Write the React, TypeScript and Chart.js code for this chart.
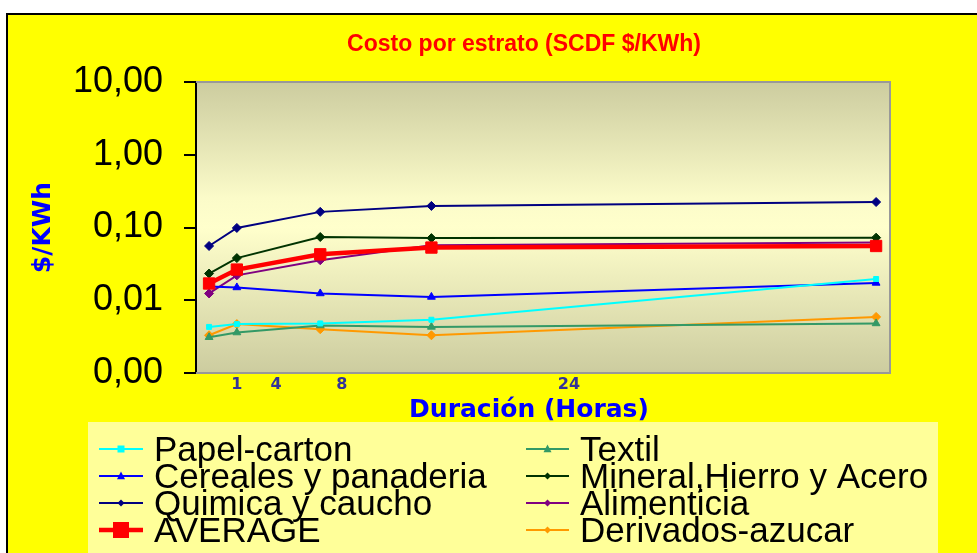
import React, { useEffect, useRef } from 'react';
import { Chart, registerables } from 'chart.js';

Chart.register(...registerables);

// ---- data ----
const hours = [0, 1, 4, 8, 24];
const seriesNames = [
  'Papel-carton',
  'Cereales y panaderia',
  'Quimica y caucho',
  'AVERAGE',
  'Textil',
  'Mineral,Hierro y Acero',
  'Alimenticia',
  'Derivados-azucar',
];
const papelCarton = [0.0043, 0.0047, 0.0048, 0.0054, 0.0196];
const cereales = [0.0155, 0.015, 0.0124, 0.0111, 0.0173];
const quimica = [0.0557, 0.0986, 0.164, 0.198, 0.224];
const average = [0.017, 0.0264, 0.0428, 0.053, 0.0557];
const textil = [0.0031, 0.0036, 0.0045, 0.0043, 0.0048];
const mineral = [0.0233, 0.038, 0.074, 0.0715, 0.0725];
const alimenticia = [0.0124, 0.022, 0.0355, 0.057, 0.062];
const derivados = [0.0033, 0.0047, 0.004, 0.0033, 0.0059];

const xTickValues = [1, 2.41, 4.78, 12.95];
const xTickLabels = ['1', '4', '8', '24'];
const yTickValues = [0.001, 0.01, 0.1, 1, 10];

const chartTitle = 'Costo por estrato (SCDF $/KWh)';
const xTitle = 'Duración (Horas)';
const yTitle = '$/KWh';

// ---- styles ----
const styles = [
  { color: '#00FFFF', style: 'rect', r: 3.5, w: 2, lr: 3.5 },
  { color: '#0000FF', style: 'triangle', r: 4.5, w: 2, lr: 4 },
  { color: '#000080', style: 'rectRot', r: 4.5, w: 2, lr: 3.5 },
  { color: '#FF0000', style: 'rect', r: 8, w: 4.5, lr: 8 },
  { color: '#339966', style: 'triangle', r: 4.5, w: 2, lr: 4 },
  { color: '#003300', style: 'rectRot', r: 4.5, w: 2, lr: 3.5 },
  { color: '#800080', style: 'rectRot', r: 4.5, w: 2, lr: 3.5 },
  { color: '#FF9900', style: 'rectRot', r: 4.5, w: 2, lr: 3.5 },
];
const seriesValues = [papelCarton, cereales, quimica, average, textil, mineral, alimenticia, derivados];

function drawMarker(ctx: CanvasRenderingContext2D, style: string, x: number, y: number, r: number, color: string) {
  ctx.save();
  ctx.fillStyle = color;
  ctx.beginPath();
  if (style === 'rect') {
    ctx.rect(x - r, y - r, 2 * r, 2 * r);
  } else if (style === 'triangle') {
    ctx.moveTo(x, y - r * 1.1);
    ctx.lineTo(x + r, y + r * 0.8);
    ctx.lineTo(x - r, y + r * 0.8);
    ctx.closePath();
  } else {
    ctx.moveTo(x, y - r);
    ctx.lineTo(x + r, y);
    ctx.lineTo(x, y + r);
    ctx.lineTo(x - r, y);
    ctx.closePath();
  }
  ctx.fill();
  ctx.restore();
}

const decorPlugin = {
  id: 'decor',
  beforeDraw(chart: any) {
    const { ctx, width, height, chartArea } = chart;
    ctx.save();
    ctx.fillStyle = '#FFFFFF';
    ctx.fillRect(0, 0, width, height);
    ctx.fillStyle = '#000000';
    ctx.fillRect(6, 13, width - 6, 2);
    ctx.fillRect(6, 13, 2, height - 13);
    ctx.fillStyle = '#FFFF00';
    ctx.fillRect(8, 15, width - 8, height - 15);
    const g = ctx.createLinearGradient(0, chartArea.top, 0, chartArea.bottom);
    g.addColorStop(0, '#CCCC9F');
    g.addColorStop(0.4, '#FBFBC9');
    g.addColorStop(0.5, '#FFFFCC');
    g.addColorStop(1, '#CCCC9F');
    ctx.fillStyle = g;
    ctx.fillRect(chartArea.left, chartArea.top, chartArea.right - chartArea.left, chartArea.bottom - chartArea.top);
    ctx.restore();
  },
  beforeDatasetsDraw(chart: any) {
    const { ctx, chartArea } = chart;
    ctx.save();
    ctx.strokeStyle = '#999999';
    ctx.lineWidth = 2;
    ctx.beginPath();
    ctx.moveTo(chartArea.left, chartArea.top);
    ctx.lineTo(chartArea.right, chartArea.top);
    ctx.lineTo(chartArea.right, chartArea.bottom);
    ctx.lineTo(chartArea.left, chartArea.bottom);
    ctx.stroke();
    ctx.restore();
  },
  afterDraw(chart: any) {
    const { ctx } = chart;
    ctx.save();
    // main title
    ctx.fillStyle = '#FF0000';
    ctx.font = 'bold 23px "Liberation Sans", Arial, sans-serif';
    ctx.textAlign = 'center';
    ctx.textBaseline = 'middle';
    ctx.fillText(chartTitle, 524, 45);
    // x title
    ctx.fillStyle = '#0000FF';
    ctx.font = 'bold 25px "DejaVu Sans", Verdana, sans-serif';
    ctx.fillText(xTitle, 529, 410);
    // legend
    ctx.fillStyle = '#FFFF99';
    ctx.fillRect(88, 422, 850, 140);
    const rows = [449, 476, 503, 530];
    const cols = [
      { x0: 99, x1: 143, tx: 154 },
      { x0: 526, x1: 569, tx: 580 },
    ];
    ctx.font = '35px "Liberation Sans", Arial, sans-serif';
    ctx.textAlign = 'left';
    ctx.textBaseline = 'alphabetic';
    chart.data.datasets.forEach((ds: any, i: number) => {
      const c = cols[Math.floor(i / 4)];
      const y = rows[i % 4];
      const s = styles[i];
      ctx.strokeStyle = s.color;
      ctx.lineWidth = s.w;
      ctx.beginPath();
      ctx.moveTo(c.x0, y);
      ctx.lineTo(c.x1, y);
      ctx.stroke();
      drawMarker(ctx, s.style, (c.x0 + c.x1) / 2, y, s.lr, s.color);
      ctx.fillStyle = '#000000';
      ctx.fillText(ds.label, c.tx, y + 12);
    });
    ctx.restore();
  },
};

export default function App() {
  const ref = useRef<HTMLCanvasElement | null>(null);
  useEffect(() => {
    if (!ref.current) return;
    const datasets = seriesNames.map((name, i) => ({
      label: name,
      data: hours.map((h, j) => ({ x: h, y: seriesValues[i][j] })),
      borderColor: styles[i].color,
      backgroundColor: styles[i].color,
      pointBackgroundColor: styles[i].color,
      pointBorderColor: styles[i].color,
      borderWidth: styles[i].w,
      pointStyle: styles[i].style,
      pointRadius: styles[i].r,
      pointBorderWidth: 1,
      tension: 0,
      fill: false,
      order: name === 'AVERAGE' ? -1 : 0,
    }));
    const chart = new Chart(ref.current, {
      type: 'line',
      data: { datasets },
      plugins: [decorPlugin],
      options: {
        animation: false,
        responsive: false,
        events: [],
        layout: { padding: { left: 0, top: 82, right: 87, bottom: 130 } },
        plugins: {
          legend: { display: false },
          title: { display: false },
          tooltip: { enabled: false },
        },
        scales: {
          x: {
            type: 'linear',
            min: -0.47,
            max: 24.5,
            grid: { display: false },
            border: { display: false },
            afterBuildTicks: (scale: any) => {
              scale.ticks = xTickValues.map((v) => ({ value: v }));
            },
            afterFit: (scale: any) => {
              scale.height = 50;
            },
            ticks: {
              autoSkip: false,
              maxRotation: 0,
              padding: -6,
              color: '#333399',
              font: { family: '"DejaVu Sans", Verdana, sans-serif', size: 16, weight: 'bold' },
              callback: (_v: any, i: number) => xTickLabels[i],
            },
          },
          y: {
            type: 'logarithmic',
            min: 0.001,
            max: 10,
            border: { display: true, color: '#000000', width: 2 },
            grid: {
              display: true,
              drawOnChartArea: false,
              drawTicks: true,
              tickLength: 12,
              color: '#000000',
              lineWidth: 2,
            },
            afterBuildTicks: (scale: any) => {
              scale.ticks = yTickValues.map((v) => ({ value: v }));
            },
            afterFit: (scale: any) => {
              scale.width = 196;
            },
            ticks: {
              padding: 21,
              color: '#000000',
              font: { family: '"Liberation Sans", Arial, sans-serif', size: 36 },
              callback: (v: any) => Number(v).toFixed(2).replace('.', ','),
            },
            title: {
              display: true,
              text: yTitle,
              color: '#0000FF',
              font: { family: '"DejaVu Sans", Verdana, sans-serif', size: 25, weight: 'bold' },
              padding: { top: 28, bottom: 0 },
            },
          },
        },
      } as any,
    });
    return () => chart.destroy();
  }, []);
  return (
    <div style={{ position: 'absolute', left: 0, top: 0, width: 977, height: 553 }}>
      <canvas ref={ref} width={977} height={553} style={{ display: 'block', width: 977, height: 553 }} />
    </div>
  );
}
